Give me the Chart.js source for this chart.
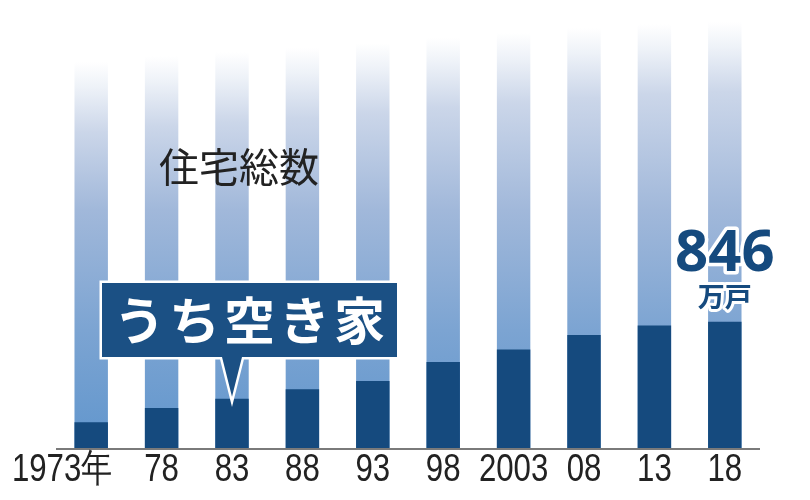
<!DOCTYPE html>
<html>
<head>
<meta charset="utf-8">
<script src="https://cdn.jsdelivr.net/npm/chart.js@4"></script>
<style>
  html, body { margin: 0; padding: 0; background: #fff; }
  #wrap { width: 810px; height: 500px; }
</style>
</head>
<body>
<div id="wrap"><canvas id="graph" width="810" height="500"></canvas></div>
<script>
// 住宅・土地統計調査 (万戸)
const years = ['1973年', '78', '83', '88', '93', '98', '2003', '08', '13', '18'];
const vacant = [172, 268, 330, 394, 448, 576, 659, 757, 820, 846];   // うち空き家
const totals = [3106, 3545, 3861, 4201, 4588, 5025, 5389, 5759, 6063, 6241]; // 住宅総数

const navy = '#154a7e';
const jp = '"Noto Sans CJK JP", "Noto Sans", sans-serif';

// light bars: fade to white toward the top (totals are cut off)
function fadeFill(ctx) {
    const chart = ctx.chart;
    const area = chart.chartArea;
    if (!area) return '#7ea6d3';
    const i = ctx.dataIndex;
    const lo = Math.min(...totals), hi = Math.max(...totals);
    const t = (totals[i] - lo) / (hi - lo);
    const top = 62 - 40 * t;
    const bottom = area.bottom;
    const g = chart.ctx.createLinearGradient(0, bottom, 0, top);
    const at = y => Math.min(1, Math.max(0, (bottom - y) / (bottom - top)));
    g.addColorStop(0, '#6196cd');
    g.addColorStop(at(330), '#7ca4d2');
    g.addColorStop(at(210), '#a1b8da');
    g.addColorStop(at(top + 70), '#cbd6e9');
    g.addColorStop(at(top + 25), '#eef2f8');
    g.addColorStop(1, 'rgba(255,255,255,1)');
    return g;
}

const overlay = {
    id: 'overlay',
    afterDatasetsDraw(chart) {
        const c = chart.ctx;
        const x = chart.scales.x, y = chart.scales.y;
        const area = chart.chartArea;
        c.save();

        // baseline
        c.strokeStyle = '#7a7a7a';
        c.lineWidth = 2;
        c.beginPath();
        c.moveTo(area.left, area.bottom + 1);
        c.lineTo(area.right, area.bottom + 1);
        c.stroke();

        // year labels (condensed)
        c.fillStyle = '#222';
        c.textBaseline = 'middle';
        c.textAlign = 'center';
        c.font = '39px "Liberation Sans", Arial, sans-serif';
        years.forEach((lab, i) => {
            let px = x.getPixelForValue(i);
            if (i === 0) px -= 29;
            c.save();
            c.translate(px, 470);
            c.scale(0.8, 1);
            c.fillText(lab, 0, 0);
            c.restore();
        });

        // 住宅総数
        c.textAlign = 'left';
        c.font = '40px ' + jp;
        c.fillStyle = '#222';
        c.fillText('住宅総数', 159, 167);

        // callout うち空き家
        const tipX = x.getPixelForValue(2);
        const tipY = y.getPixelForValue(vacant[2]) - 2;
        const bx = 102, by = 283, bw = 295, bh = 74;
        c.beginPath();
        c.moveTo(bx, by);
        c.lineTo(bx + bw, by);
        c.lineTo(bx + bw, by + bh);
        c.lineTo(tipX + 10, by + bh);
        c.lineTo(tipX, tipY);
        c.lineTo(tipX - 10, by + bh);
        c.lineTo(bx, by + bh);
        c.closePath();
        c.lineJoin = 'miter';
        c.strokeStyle = '#ffffff';
        c.lineWidth = 5;
        c.stroke();
        c.fillStyle = '#1b5084';
        c.fill();
        c.fillStyle = '#ffffff';
        c.textAlign = 'center';
        c.font = 'bold 51px ' + jp;
        c.letterSpacing = '4px';
        c.fillText('うち空き家', bx + bw / 2 + 2, by + bh / 2 + 1);
        c.letterSpacing = '0px';

        // 846 万戸
        const lx = x.getPixelForValue(9);
        c.lineJoin = 'round';
        c.strokeStyle = '#ffffff';
        c.lineWidth = 7;
        c.font = 'bold 58px "Noto Sans", "DejaVu Sans", sans-serif';
        c.strokeText(String(vacant[9]), lx, 254);
        c.fillStyle = navy;
        c.fillText(String(vacant[9]), lx, 254);
        c.font = 'bold 27px ' + jp;
        c.lineWidth = 6;
        c.strokeText('万戸', lx, 297);
        c.fillText('万戸', lx, 297);

        c.restore();
    }
};

new Chart(document.getElementById('graph'), {
    type: 'bar',
    data: {
        labels: years,
        datasets: [
            {
                label: 'うち空き家',
                data: vacant,
                backgroundColor: navy,
                grouped: false,
                barPercentage: 0.95,
                categoryPercentage: 0.5
            },
            {
                label: '住宅総数',
                data: totals,
                backgroundColor: fadeFill,
                grouped: false,
                barPercentage: 0.95,
                categoryPercentage: 0.5
            }
        ]
    },
    options: {
        responsive: false,
        animation: false,
        layout: { padding: { left: 56, right: 50, top: 0, bottom: 52 } },
        plugins: {
            legend: { display: false },
            tooltip: { enabled: false }
        },
        scales: {
            x: { display: false },
            y: { display: false, min: 0, max: 3000 }
        }
    },
    plugins: [overlay]
});
</script>
</body>
</html>
